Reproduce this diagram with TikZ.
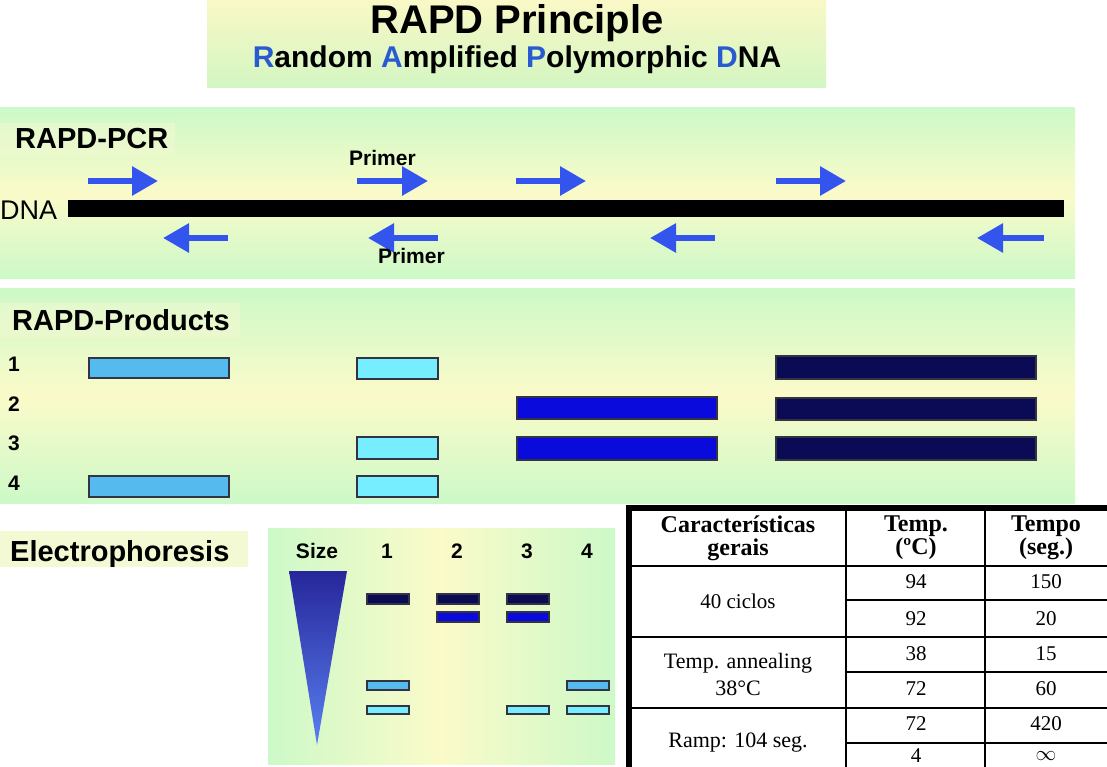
\documentclass[tikz,border=0pt]{standalone}
\usepackage{fontspec}
\setmainfont{Liberation Sans}
\newfontfamily\tabfont{Liberation Serif}
\usetikzlibrary{arrows.meta}
\definecolor{pgreen}{HTML}{CDF9C8}
\definecolor{pyellow}{HTML}{FBFAC9}
\definecolor{tyellow}{HTML}{F9F8C6}
\definecolor{tgreen}{HTML}{D3F6C2}
\definecolor{lblbg}{HTML}{F3F9D2}
\definecolor{arrowblue}{HTML}{3355EE}
\definecolor{letblue}{HTML}{2A5AD0}
\definecolor{lightblue}{HTML}{55BBEE}
\definecolor{cyanbar}{HTML}{77EEFF}
\definecolor{bluebar}{HTML}{0A0ADD}
\definecolor{navybar}{HTML}{0A0A55}
\definecolor{barborder}{HTML}{333344}
\definecolor{tritop}{HTML}{26269A}
\definecolor{tribot}{HTML}{5A80F0}
\begin{document}
\begin{tikzpicture}[x=1pt,y=-1pt,
  hfont/.style={font=\bfseries\fontsize{29}{29}\selectfont},
  numfont/.style={font=\bfseries\fontsize{21}{21}\selectfont},
  primerlbl/.style={font=\bfseries\fontsize{21}{21}\selectfont},
  primerR/.style={draw=arrowblue, line width=6pt, -{Triangle[length=26pt,width=28pt]}},
  bar/.style={draw=barborder, line width=1.3pt},
  lb/.style={bar, fill=lightblue},
  cy/.style={bar, fill=cyanbar},
  bl/.style={bar, fill=bluebar},
  nv/.style={bar, fill=navybar},
  tline/.style={line width=1.4pt},
  thead/.style={font=\tabfont\bfseries\fontsize{24}{23}\selectfont, align=center, inner sep=1pt},
  tcell/.style={font=\tabfont\fontsize{21}{21}\selectfont, align=center},
  tcellb/.style={font=\tabfont\fontsize{22}{27}\selectfont, align=center}]
\useasboundingbox (0,0) rectangle (1107,767);
\fill[white] (0,0) rectangle (1107,767);

% title
\fill[top color=tyellow, bottom color=tgreen] (207,0) rectangle (826,88);
\node[font=\bfseries\fontsize{40}{40}\selectfont, anchor=base] (title) at (517,34) {RAPD Principle};
\node[font=\bfseries\fontsize{30}{30}\selectfont, anchor=base] (subtitle) at (517,68)
  {\textcolor{letblue}{R}andom \textcolor{letblue}{A}mplified \textcolor{letblue}{P}olymorphic \textcolor{letblue}{D}NA};

% RAPD-PCR panel
\fill[top color=pgreen, bottom color=pgreen, middle color=pyellow] (0,108) rectangle (1075,278);
\fill[lblbg, opacity=0.5] (0,123) rectangle (175,155);
\node[hfont, anchor=base west, inner sep=0] (pcr) at (15,149) {RAPD-PCR};
\node[font=\fontsize{27}{27}\selectfont, anchor=base west, inner sep=0] (dna) at (0,219) {DNA};
\fill[black] (68,200) rectangle (1064,217);
\draw[primerR] (88,181) -- (158,181);
\draw[primerR] (357,181) -- (428,181);
\draw[primerR] (516,181) -- (586,181);
\draw[primerR] (776,181) -- (846,181);
\draw[primerR] (228,238) -- (163,238);
\draw[primerR] (438,238) -- (368,238);
\draw[primerR] (715,238) -- (650,238);
\draw[primerR] (1044,238) -- (977,238);
\node[primerlbl, anchor=base west, inner sep=0] (primer1) at (349,166) {Primer};
\node[primerlbl, anchor=base west, inner sep=0] (primer2) at (378,263) {Primer};

% RAPD-Products panel
\fill[top color=pgreen, bottom color=pgreen, middle color=pyellow] (0,288) rectangle (1075,503);
\fill[lblbg, opacity=0.5] (0,303) rectangle (240,338);
\node[hfont, anchor=base west, inner sep=0] (prod) at (12,330) {RAPD-Products};
\node[numfont, anchor=base west, inner sep=0] (n1) at (8,371) {1};
\node[numfont, anchor=base west, inner sep=0] (n2) at (8,411) {2};
\node[numfont, anchor=base west, inner sep=0] (n3) at (8,450) {3};
\node[numfont, anchor=base west, inner sep=0] (n4) at (8,490) {4};
% row 1
\draw[lb] (89,358) rectangle (229,378);
\draw[cy] (357,358) rectangle (438,379);
\draw[nv] (776,356) rectangle (1036,379);
% row 2
\draw[bl] (517,397) rectangle (717,419);
\draw[nv] (776,398) rectangle (1036,420);
% row 3
\draw[cy] (357,437) rectangle (438,459);
\draw[bl] (517,437) rectangle (717,460);
\draw[nv] (776,437) rectangle (1036,460);
% row 4
\draw[lb] (89,476) rectangle (229,497);
\draw[cy] (357,476) rectangle (438,497);

% Electrophoresis
\fill[lblbg] (0,531) rectangle (248,567);
\node[hfont, anchor=base west, inner sep=0] (elec) at (10,561) {Electrophoresis};
\fill[left color=pgreen, right color=pgreen, middle color=pyellow] (268,528) rectangle (615,764);
\node[primerlbl, anchor=base] (size) at (317,558) {Size};
\node[primerlbl, anchor=base] (l1) at (387,558) {1};
\node[primerlbl, anchor=base] (l2) at (457,558) {2};
\node[primerlbl, anchor=base] (l3) at (527,558) {3};
\node[primerlbl, anchor=base] (l4) at (587,558) {4};
\shade[top color=tritop, bottom color=tribot] (289,571) -- (347,571) -- (317,745) -- cycle;
\draw[nv] (367,594) rectangle (409,604);
\draw[nv] (437,594) rectangle (479,604);
\draw[bl] (437,612) rectangle (479,622);
\draw[nv] (507,594) rectangle (549,604);
\draw[bl] (507,612) rectangle (549,622);
\draw[lb] (367,681) rectangle (409,690);
\draw[cy] (367,706) rectangle (409,714);
\draw[cy] (507,706) rectangle (549,714);
\draw[lb] (567,681) rectangle (609,690);
\draw[cy] (567,706) rectangle (609,714);

% Table
\fill[white] (629,507) rectangle (1107,767);
\draw[line width=6pt] (629,767) -- (629,508) -- (1107,508);
\draw[tline] (846,508) -- (846,767);
\draw[tline] (985,508) -- (985,767);
\draw[tline] (629,566) -- (1107,566);
\draw[tline] (846,600) -- (1107,600);
\draw[tline] (629,637) -- (1107,637);
\draw[tline] (846,672) -- (1107,672);
\draw[tline] (629,708) -- (1107,708);
\draw[tline] (846,743) -- (1107,743);
\node[thead] (h1) at (738,538) {Características\\gerais};
\node[thead] (h2) at (916,538) {Temp.\\(ºC)};
\node[thead] (h3) at (1046,538) {Tempo\\(seg.)};
\node[tcell] (c1) at (738,601) {40 ciclos};
\node[tcell] (t1) at (916,582) {94};
\node[tcell] (s1) at (1046,582) {150};
\node[tcell] (t2) at (916,619) {92};
\node[tcell] (s2) at (1046,619) {20};
\node[tcellb] (c2) at (738,674) {Temp. annealing\\38°C};
\node[tcell] (t3) at (916,654) {38};
\node[tcell] (s3) at (1046,654) {15};
\node[tcell] (t4) at (916,689) {72};
\node[tcell] (s4) at (1046,689) {60};
\node[tcellb] (c3) at (738,743) {Ramp: 104 seg.};
\node[tcell] (t5) at (916,724) {72};
\node[tcell] (s5) at (1046,724) {420};
\node[tcell] (t6) at (916,756) {4};
\node[tcell] (s6) at (1046,756) {$\infty$};
\end{tikzpicture}
\end{document}
